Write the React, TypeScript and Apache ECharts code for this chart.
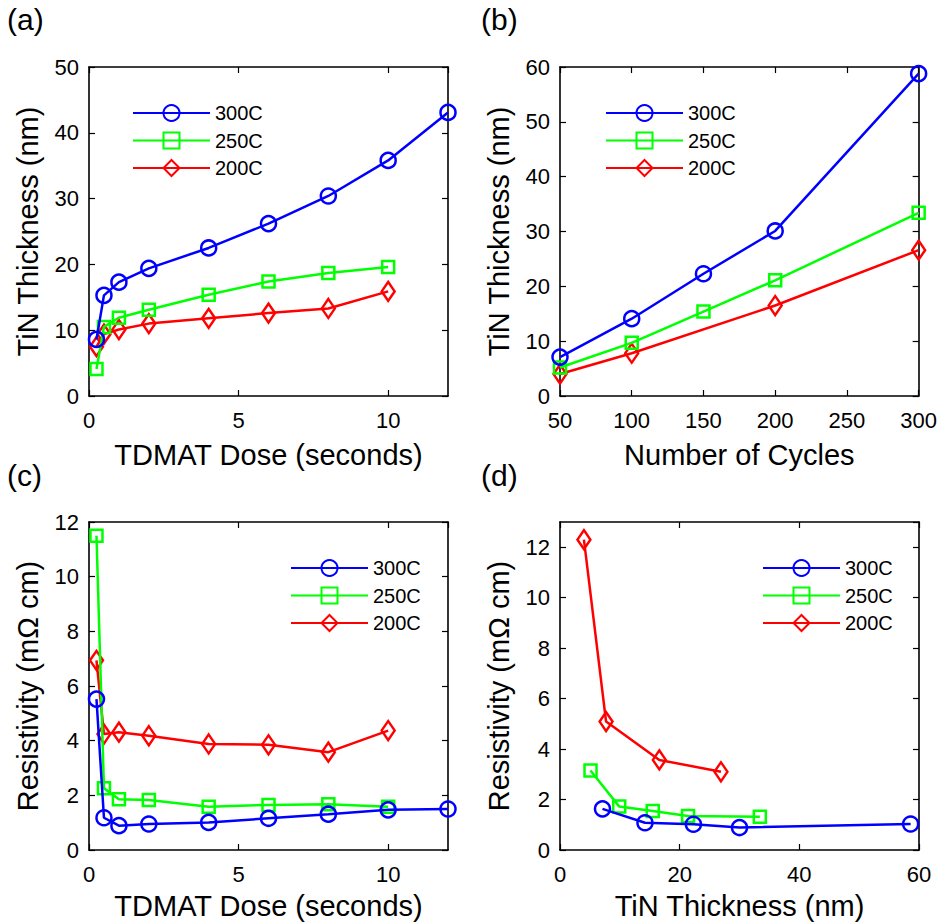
import React, { useEffect, useRef } from "react";
import * as echarts from "echarts";

// Panel (a): thickness vs TDMAT dose
const doseA300 = [0.25, 0.5, 1, 2, 4, 6, 8, 10, 12];
const thickA300 = [8.6, 15.3, 17.3, 19.4, 22.5, 26.2, 30.4, 35.8, 43.1];
const doseA250 = [0.25, 0.5, 1, 2, 4, 6, 8, 10];
const thickA250 = [4.1, 10.5, 11.9, 13.1, 15.4, 17.4, 18.7, 19.6];
const doseA200 = [0.25, 0.5, 1, 2, 4, 6, 8, 10];
const thickA200 = [7.5, 9.4, 10.1, 11.0, 11.8, 12.6, 13.3, 15.9];

// Panel (b): thickness vs number of cycles
const cyclesB300 = [50, 100, 150, 200, 300];
const thickB300 = [7.1, 14.1, 22.3, 30.1, 58.8];
const cyclesB250 = [50, 100, 150, 200, 300];
const thickB250 = [5.2, 9.7, 15.4, 21.1, 33.4];
const cyclesB200 = [50, 100, 200, 300];
const thickB200 = [4.0, 7.8, 16.5, 26.6];

// Panel (c): resistivity vs TDMAT dose
const resC300 = [5.52, 1.18, 0.89, 0.95, 1.01, 1.16, 1.31, 1.47, 1.5];
const resC250 = [11.5, 2.26, 1.86, 1.83, 1.58, 1.65, 1.67, 1.58];
const resC200 = [6.94, 4.24, 4.31, 4.18, 3.88, 3.85, 3.58, 4.37];

// Panel (d): resistivity vs TiN thickness
const thickD300 = [7.1, 14.2, 22.3, 30.0, 58.6];
const resD300 = [1.63, 1.08, 1.02, 0.89, 1.03];
const thickD250 = [5.1, 9.9, 15.5, 21.4, 33.4];
const resD250 = [3.15, 1.72, 1.55, 1.35, 1.32];
const thickD200 = [4.0, 7.7, 16.6, 26.9];
const resD200 = [12.3, 5.09, 3.57, 3.1];

const seriesNames = ["300C", "250C", "200C"];
const panelLabels = ["(a)", "(b)", "(c)", "(d)"];
const xTitles = ["TDMAT Dose (seconds)", "Number of Cycles", "TDMAT Dose (seconds)", "TiN Thickness (nm)"];
const yTitles = ["TiN Thickness (nm)", "TiN Thickness (nm)", "Resistivity (mΩ cm)", "Resistivity (mΩ cm)"];

const FONT = "'Liberation Sans', Arial, Helvetica, sans-serif";
const colors = ["#0000ff", "#00ff00", "#ff0000"];
const symbols = ["circle", "rect", "diamond"];
const symbolSizes: any[] = [15, 12, [13, 19]];

const zip = (xs: number[], ys: number[]) => xs.map((x, i) => [x, ys[i]]);

export default function App() {
  const ref = useRef<HTMLDivElement>(null);
  useEffect(() => {
    if (!ref.current) return;
    const chart = echarts.init(ref.current, undefined, { renderer: "svg" });

    const grids = [
      { left: 89, top: 67, width: 359, height: 329 },
      { left: 560, top: 67, width: 359, height: 329 },
      { left: 89, top: 522, width: 359, height: 328 },
      { left: 560, top: 522, width: 359, height: 328 },
    ];
    const xRanges = [
      { min: 0, max: 12, interval: 5 },
      { min: 50, max: 300, interval: 50 },
      { min: 0, max: 12, interval: 5 },
      { min: 0, max: 60, interval: 20 },
    ];
    const yRanges = [
      { min: 0, max: 50, interval: 10 },
      { min: 0, max: 60, interval: 10 },
      { min: 0, max: 12, interval: 2 },
      { min: 0, max: 13, interval: 2 },
    ];
    const xNameGaps = [44, 44, 41, 41];
    const showMaxX = [false, true, false, true];
    const showMaxY = [true, true, true, false];

    const axisLine = { show: true, onZero: false, lineStyle: { color: "#000", width: 1.6 } };
    const axisTick = { show: true, inside: true, length: 6, lineStyle: { color: "#000", width: 1.2 } };

    const xAxis: any[] = [];
    const yAxis: any[] = [];
    grids.forEach((g, i) => {
      xAxis.push({
        type: "value",
        gridIndex: i,
        position: "bottom",
        ...xRanges[i],
        axisLine,
        axisTick,
        splitLine: { show: false },
        axisLabel: { fontSize: 22, color: "#000", fontFamily: FONT, margin: 13, showMaxLabel: showMaxX[i] },
        name: xTitles[i],
        nameLocation: "middle",
        nameGap: xNameGaps[i],
        nameTextStyle: { fontSize: 29, color: "#000", fontFamily: FONT },
      });
      xAxis.push({
        type: "value",
        gridIndex: i,
        position: "top",
        ...xRanges[i],
        axisLine,
        axisTick,
        splitLine: { show: false },
        axisLabel: { show: false },
      });
      yAxis.push({
        type: "value",
        gridIndex: i,
        position: "left",
        ...yRanges[i],
        axisLine,
        axisTick,
        splitLine: { show: false },
        axisLabel: { fontSize: 22, color: "#000", fontFamily: FONT, margin: 10, showMaxLabel: showMaxY[i] },
        name: yTitles[i],
        nameLocation: "middle",
        nameGap: 47,
        nameTextStyle: { fontSize: 29, color: "#000", fontFamily: FONT },
      });
      yAxis.push({
        type: "value",
        gridIndex: i,
        position: "right",
        ...yRanges[i],
        axisLine,
        axisTick,
        splitLine: { show: false },
        axisLabel: { show: false },
      });
    });

    const panelData: number[][][][] = [
      [zip(doseA300, thickA300), zip(doseA250, thickA250), zip(doseA200, thickA200)],
      [zip(cyclesB300, thickB300), zip(cyclesB250, thickB250), zip(cyclesB200, thickB200)],
      [zip(doseA300, resC300), zip(doseA250, resC250), zip(doseA200, resC200)],
      [zip(thickD300, resD300), zip(thickD250, resD250), zip(thickD200, resD200)],
    ];

    const series: any[] = [];
    panelData.forEach((sets, p) => {
      sets.forEach((data, s) => {
        series.push({
          type: "line",
          name: seriesNames[s],
          xAxisIndex: 2 * p,
          yAxisIndex: 2 * p,
          data,
          symbol: symbols[s],
          symbolSize: symbolSizes[s],
          showAllSymbol: true,
          lineStyle: { color: colors[s], width: 2.5 },
          itemStyle: { color: "rgba(255,255,255,0)", borderColor: colors[s], borderWidth: 2.5 },
          emphasis: { disabled: true },
          z: 10 - s,
        });
      });
    });

    const legendPos = [
      { left: 127, top: 98 },
      { left: 600, top: 98 },
      { left: 285, top: 553 },
      { left: 757, top: 553 },
    ];
    const legend = legendPos.map((pos) => ({
      ...pos,
      orient: "vertical",
      data: seriesNames,
      itemWidth: 77,
      itemHeight: 20,
      itemGap: 7.5,
      selectedMode: false,
      textStyle: { fontSize: 20, color: "#000", fontFamily: FONT },
    }));

    const titlePos = [
      { left: 7, top: 4 },
      { left: 481, top: 4 },
      { left: 7, top: 460 },
      { left: 481, top: 460 },
    ];
    const title = titlePos.map((pos, i) => ({
      ...pos,
      text: panelLabels[i],
      padding: 0,
      textStyle: { fontSize: 30, fontWeight: "normal", color: "#000", fontFamily: FONT },
    }));

    chart.setOption({
      animation: false,
      backgroundColor: "#fff",
      title,
      legend,
      grid: grids.map((g) => ({ ...g, containLabel: false })),
      xAxis,
      yAxis,
      series,
    });
    return () => chart.dispose();
  }, []);
  return <div ref={ref} style={{ position: "absolute", left: 0, top: 0, width: 940, height: 923 }} />;
}
